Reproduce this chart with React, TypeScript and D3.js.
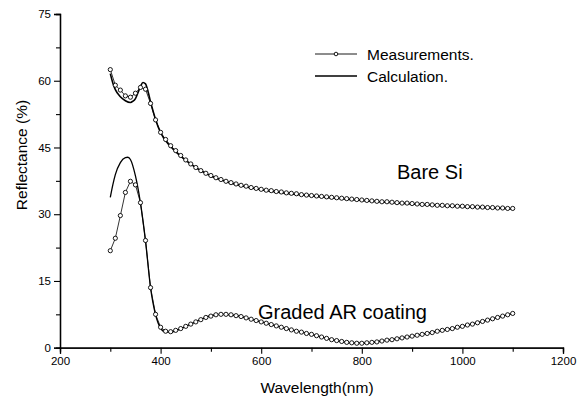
import React, { useEffect, useRef } from "react";
import * as d3 from "d3";

// measured wavelengths, 300..1100 nm every 10 nm
const measWl: number[] = [
  300, 310, 320, 330, 340, 350, 360, 370, 380, 390, 400, 410, 420, 430, 440, 450, 460, 470, 480, 490,
  500, 510, 520, 530, 540, 550, 560, 570, 580, 590, 600, 610, 620, 630, 640, 650, 660, 670, 680, 690,
  700, 710, 720, 730, 740, 750, 760, 770, 780, 790, 800, 810, 820, 830, 840, 850, 860, 870, 880, 890,
  900, 910, 920, 930, 940, 950, 960, 970, 980, 990, 1000, 1010, 1020, 1030, 1040, 1050, 1060, 1070, 1080, 1090,
  1100,
];

const bareMeas: number[] = [
  62.5, 59.0, 57.9, 56.6, 56.3, 57.2, 58.5, 58.1, 54.9, 51.2, 48.4, 46.8, 45.4, 44.3, 43.2, 42.2, 41.3, 40.5, 39.8, 39.2,
  38.7, 38.2, 37.8, 37.4, 37.1, 36.8, 36.5, 36.3, 36.0, 35.8, 35.6, 35.4, 35.3, 35.1, 35.0, 34.8, 34.7, 34.6, 34.4, 34.3,
  34.2, 34.1, 34.0, 33.9, 33.8, 33.7, 33.6, 33.5, 33.4, 33.3, 33.2, 33.1, 33.0, 32.9, 32.8, 32.8, 32.7, 32.6, 32.5, 32.5,
  32.4, 32.3, 32.2, 32.2, 32.1, 32.0, 32.0, 31.9, 31.9, 31.8, 31.8, 31.7, 31.7, 31.6, 31.6, 31.5, 31.5, 31.4, 31.4, 31.3,
  31.3,
];

const arMeas: number[] = [
  21.8, 24.6, 29.7, 34.9, 37.4, 36.6, 32.6, 24.1, 13.5, 7.5, 4.6, 3.7, 3.6, 3.9, 4.3, 4.8, 5.3, 5.8, 6.3, 6.8,
  7.1, 7.4, 7.5, 7.5, 7.4, 7.2, 7.0, 6.7, 6.4, 6.1, 5.8, 5.5, 5.2, 4.9, 4.6, 4.3, 4.0, 3.7, 3.5, 3.2,
  3.0, 2.7, 2.4, 2.1, 1.8, 1.6, 1.4, 1.2, 1.1, 1.0, 1.0, 1.1, 1.2, 1.3, 1.5, 1.7, 1.8, 2.0, 2.2, 2.4,
  2.6, 2.8, 3.0, 3.2, 3.4, 3.7, 3.9, 4.1, 4.3, 4.6, 4.8, 5.1, 5.3, 5.6, 5.9, 6.2, 6.5, 6.8, 7.1, 7.4,
  7.7,
];

// calculated curves
const bareCalcWl: number[] = [300, 305, 310, 320, 330, 340, 345, 350, 355, 360, 365, 370, 375, 380, 390, 400, 420, 450, 500, 550, 600, 700, 800, 900, 1000, 1100];
const bareCalc: number[] = [61.6, 59.5, 58.0, 56.4, 55.5, 55.1, 55.4, 56.0, 57.3, 58.7, 59.6, 59.3, 57.6, 55.3, 51.3, 48.3, 45.2, 42.1, 38.6, 36.7, 35.5, 34.1, 33.1, 32.3, 31.7, 31.2];

const arCalcWl: number[] = [300, 305, 310, 320, 330, 335, 340, 350, 360, 370, 380, 390, 400, 410, 420, 450, 500, 520, 550, 600, 650, 700, 750, 780, 800, 850, 900, 950, 1000, 1050, 1100];
const arCalc: number[] = [33.8, 36.6, 38.9, 41.6, 42.7, 42.8, 42.3, 38.6, 32.5, 24.0, 13.5, 7.4, 4.4, 3.5, 3.5, 4.8, 7.2, 7.5, 7.2, 5.8, 4.3, 3.0, 1.6, 1.1, 1.0, 1.7, 2.6, 3.7, 4.8, 6.2, 7.7];

const xMajor = [200, 400, 600, 800, 1000, 1200];
const xMinor = [300, 500, 700, 900, 1100];
const yMajor = [0, 15, 30, 45, 60, 75];
const yMinor = [7.5, 22.5, 37.5, 52.5, 67.5];

const legendLabels = ["Measurements.", "Calculation."];

const W = 584;
const H = 399;
const margin = { top: 14, right: 21, bottom: 51.3, left: 60 };
const font = "'Liberation Sans', Arial, Helvetica, sans-serif";

const App = () => {
  const svgRef = useRef<SVGSVGElement>(null);

  const x = d3.scaleLinear().domain([200, 1200]).range([margin.left, W - margin.right]);
  const y = d3.scaleLinear().domain([0, 75]).range([H - margin.bottom, margin.top]);

  useEffect(() => {
    const svg = d3.select(svgRef.current);

    const xAxis = d3.axisBottom(x).tickValues(xMajor).tickSize(6).tickPadding(3).tickFormat(d3.format("d"));
    const xAxisMinor = d3.axisBottom(x).tickValues(xMinor).tickSize(4).tickFormat(() => "");
    const yAxis = d3.axisLeft(y).tickValues(yMajor).tickSize(6).tickPadding(3).tickFormat(d3.format("d"));
    const yAxisMinor = d3.axisLeft(y).tickValues(yMinor).tickSize(4).tickFormat(() => "");

    svg.select<SVGGElement>(".xMinor").call(xAxisMinor);
    svg.select<SVGGElement>(".xAxis").call(xAxis);
    svg.select<SVGGElement>(".yMinor").call(yAxisMinor);
    svg.select<SVGGElement>(".yAxis").call(yAxis);

    svg.selectAll(".domain").attr("stroke", "#000").attr("stroke-width", 1.3);
    svg.selectAll(".tick line").attr("stroke", "#000").attr("stroke-width", 1.1);
    svg.selectAll(".tick text").attr("fill", "#000").style("font-family", font).style("font-size", "11.5px");
  }, []);

  const measLine = d3
    .line<number>()
    .x((_, i) => x(measWl[i]))
    .y((d) => y(d));

  const bareCalcLine = d3
    .line<number>()
    .x((_, i) => x(bareCalcWl[i]))
    .y((d) => y(d))
    .curve(d3.curveMonotoneX);

  const arCalcLine = d3
    .line<number>()
    .x((_, i) => x(arCalcWl[i]))
    .y((d) => y(d))
    .curve(d3.curveMonotoneX);

  const legX = 315;
  const legY = [54, 76];

  return (
    <div style={{ position: "fixed", left: 0, top: 0 }}>
      <svg ref={svgRef} width={W} height={H} style={{ display: "block", background: "#fff" }}>
        <g className="xMinor" transform={`translate(0, ${H - margin.bottom})`}></g>
        <g className="xAxis" transform={`translate(0, ${H - margin.bottom})`}></g>
        <g className="yMinor" transform={`translate(${margin.left}, 0)`}></g>
        <g className="yAxis" transform={`translate(${margin.left}, 0)`}></g>

        {/* calculation curves */}
        <path d={bareCalcLine(bareCalc) || ""} fill="none" stroke="#000" strokeWidth={1.6} />
        <path d={arCalcLine(arCalc) || ""} fill="none" stroke="#000" strokeWidth={1.3} />

        {/* measurements */}
        <path d={measLine(bareMeas) || ""} fill="none" stroke="#000" strokeWidth={0.8} />
        <path d={measLine(arMeas) || ""} fill="none" stroke="#000" strokeWidth={0.8} />
        <g className="dot">
          {bareMeas.map((d, i) => (
            <circle key={"b" + i} cx={x(measWl[i])} cy={y(d)} r={2.1} fill="#fff" stroke="#000" strokeWidth={0.9} />
          ))}
          {arMeas.map((d, i) => (
            <circle key={"a" + i} cx={x(measWl[i])} cy={y(d)} r={2.1} fill="#fff" stroke="#000" strokeWidth={0.9} />
          ))}
        </g>

        {/* legend */}
        <line x1={legX} x2={legX + 42} y1={legY[0]} y2={legY[0]} stroke="#000" strokeWidth={0.9} />
        <circle cx={legX + 21} cy={legY[0]} r={1.8} fill="#fff" stroke="#000" strokeWidth={0.9} />
        <line x1={legX} x2={legX + 42} y1={legY[1]} y2={legY[1]} stroke="#000" strokeWidth={1.6} />
        {legendLabels.map((t, i) => (
          <text key={t} x={367} y={legY[i] + 5.5} fontFamily={font} fontSize={15.5} fill="#000">
            {t}
          </text>
        ))}

        {/* curve labels */}
        <text x={397} y={178.5} fontFamily={font} fontSize={20} fill="#000">
          Bare Si
        </text>
        <text x={258} y={318.5} fontFamily={font} fontSize={20} fill="#000">
          Graded AR coating
        </text>

        {/* axis titles */}
        <text x={317} y={392.5} textAnchor="middle" fontFamily={font} fontSize={15.5} fill="#000">
          Wavelength(nm)
        </text>
        <text
          transform={`translate(27, 155) rotate(-90)`}
          textAnchor="middle"
          fontFamily={font}
          fontSize={15.5}
          fill="#000"
        >
          Reflectance (%)
        </text>
      </svg>
    </div>
  );
};

export default App;
